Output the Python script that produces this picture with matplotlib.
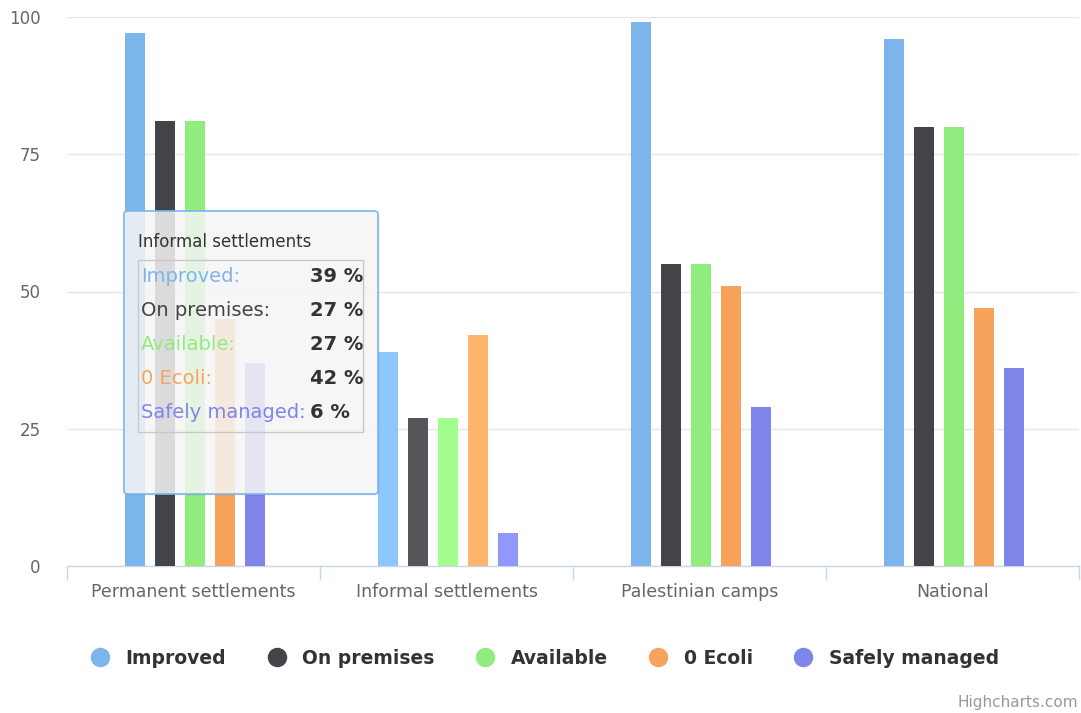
import matplotlib
matplotlib.use("Agg")
import matplotlib.pyplot as plt
from matplotlib.patches import FancyBboxPatch, Rectangle
from matplotlib.lines import Line2D
import matplotlib.colors as mcolors
import numpy as np

categories = ["Permanent settlements", "Informal settlements", "Palestinian camps", "National"]
series_names = ["Improved", "On premises", "Available", "0 Ecoli", "Safely managed"]
improved = [97, 39, 99, 96]
on_premises = [81, 27, 55, 80]
available = [81, 27, 55, 80]
ecoli = [45, 42, 51, 47]
safely_managed = [37, 6, 29, 36]
series_values = [improved, on_premises, available, ecoli, safely_managed]
colors = ["#7cb5ec", "#434348", "#90ed7d", "#f7a35c", "#8085e9"]
yticks = [0, 25, 50, 75, 100]
hovered = 1  # Informal settlements
tooltip_values = ["39 %", "27 %", "27 %", "42 %", "6 %"]

W, H = 1081, 713
fig = plt.figure(figsize=(W / 100, H / 100), dpi=100)
plt.rcParams['font.family'] = ['DejaVu Sans']

def fx(px):
    return px / W

def fy(py):
    return (H - py) / H

ax = fig.add_axes([fx(67), fy(566), fx(1079) - fx(67), fy(17) - fy(566)])

def brighten(c, amt=0.07):
    r, g, b = mcolors.to_rgb(c)
    return (min(1, r + amt), min(1, g + amt), min(1, b + amt))

x = np.arange(len(categories)) + 0.5
pitch = 30 / 253
width = 20 / 253
for j, (vals, c) in enumerate(zip(series_values, colors)):
    cols = [brighten(c) if i == hovered else c for i in range(len(categories))]
    ax.bar(x + (j - 2) * pitch + 1.5 / 253, vals, width=width, color=cols, zorder=3, linewidth=0)

ax.set_xlim(0, len(categories))
ax.set_ylim(0, 100)
ax.set_yticks(yticks)
ax.set_yticklabels([str(t) for t in yticks], color="#666666", fontsize=12)
ax.tick_params(axis='y', length=0, pad=19)
ax.grid(axis='y', color="#e6e6e6", linewidth=1, zorder=0)
ax.set_xticks(x)
ax.set_xticklabels(categories, color="#666666", fontsize=12.5)
ax.tick_params(axis='x', length=0, pad=12)
ax.set_xticks(np.arange(len(categories) + 1), minor=True)
ax.tick_params(axis='x', which='minor', length=10, color="#ccd6eb", width=1)
for s in ["top", "right", "left"]:
    ax.spines[s].set_visible(False)
ax.spines["bottom"].set_color("#ccd6eb")
ax.spines["bottom"].set_linewidth(1)

# Legend
handles = [Line2D([], [], marker='o', linestyle='none', markersize=13,
                  markerfacecolor=c, markeredgecolor=c) for c in colors]
leg = fig.legend(handles, series_names, loc='center', bbox_to_anchor=(0.504, fy(658)),
                 ncol=5, frameon=False, handlelength=1.0, handletextpad=0.85, columnspacing=2.2,
                 prop={'weight': 'bold', 'size': 13.5})
for t in leg.get_texts():
    t.set_color("#333333")

fig.text(fx(1078), fy(702), "Highcharts.com", ha='right', va='center', fontsize=11, color="#999999")

# Tooltip
x0, y0, x1, y1 = 124, 211, 378, 494
shadow = FancyBboxPatch((fx(x0 + 2), fy(y1 + 2)), fx(x1) - fx(x0), fy(y0) - fy(y1),
                        boxstyle="round,pad=0,rounding_size=0.004", transform=fig.transFigure,
                        facecolor=(0, 0, 0, 0.04), edgecolor='none', zorder=5)
fig.patches.append(shadow)
box = FancyBboxPatch((fx(x0), fy(y1)), fx(x1) - fx(x0), fy(y0) - fy(y1),
                     boxstyle="round,pad=0,rounding_size=0.004", transform=fig.transFigure,
                     facecolor=(0.969, 0.969, 0.969, 0.85), edgecolor="#7cb5ec", linewidth=1.2, zorder=6)
fig.patches.append(box)
inner = Rectangle((fx(138), fy(432)), fx(363) - fx(138), fy(260) - fy(432),
                  transform=fig.transFigure, facecolor='none', edgecolor="#c8c8c8", linewidth=1, zorder=7)
fig.patches.append(inner)
fig.text(fx(138), fy(242), categories[hovered], ha='left', va='center', fontsize=12, color="#333333", zorder=8)
row_y = [277, 311, 345, 379, 413]
for name, val, c, ry in zip(series_names, tooltip_values, colors, row_y):
    fig.text(fx(141), fy(ry), name + ":", ha='left', va='center', fontsize=14, color=c, zorder=8)
    fig.text(fx(310), fy(ry), val, ha='left', va='center', fontsize=14, color="#333333",
             fontweight='bold', zorder=8)

fig.savefig("out.png", dpi=100, facecolor="white")
